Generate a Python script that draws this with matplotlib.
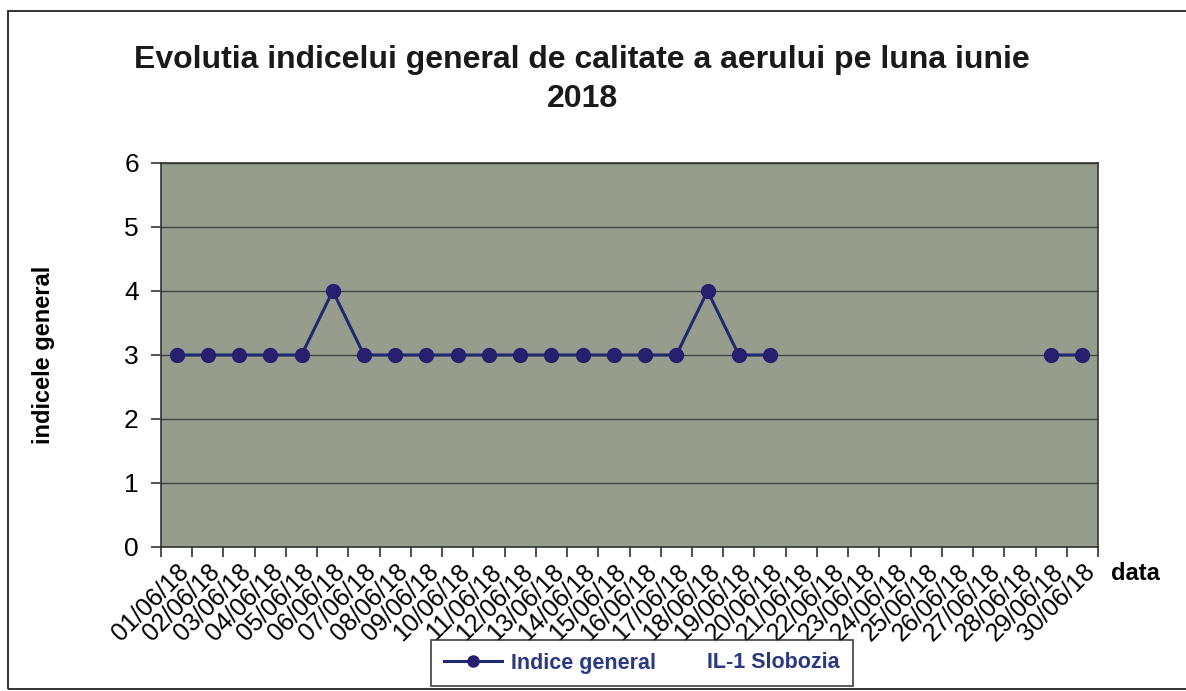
import matplotlib.pyplot as plt
import matplotlib.patches as mpatches
from matplotlib.lines import Line2D
import numpy as np

plt.rcParams['font.family'] = ['Liberation Sans', 'DejaVu Sans']

# zilele lunii iunie 2018
dates = ["%02d/06/18" % d for d in range(1, 31)]
# indicele general, IL-1 Slobozia (None = lipsa date)
values = [3, 3, 3, 3, 3, 4, 3, 3, 3, 3,
          3, 3, 3, 3, 3, 3, 3, 4, 3, 3,
          None, None, None, None, None, None, None, None, 3, 3]
y_ticks = [0, 1, 2, 3, 4, 5, 6]

x = np.arange(len(dates))
y = np.array([np.nan if v is None else v for v in values], dtype=float)

fig = plt.figure(figsize=(11.86, 6.91), dpi=100)
fig.patch.set_facecolor("white")

# chenarul graficului
fig.patches.append(mpatches.Rectangle((8/1186, 2/691), 1.2, 678/691, transform=fig.transFigure,
                                      fill=False, edgecolor="#222222", linewidth=1.3))

ax = fig.add_axes([161/1186, 144/691, 937/1186, 384/691])
ax.set_facecolor("#969d8c")
for s in ax.spines.values():
    s.set_color("#333333")
    s.set_linewidth(1.2)

ax.grid(axis="y", color="#3f443d", linewidth=1.0)
ax.set_axisbelow(True)

ax.plot(x, y, color="#1f2a6e", linewidth=2.2, marker="o", markersize=10,
        markerfacecolor="#27206e", markeredgecolor="#27206e")

ax.set_xlim(-0.5, len(dates) - 0.5)
ax.set_ylim(0, 6)
ax.set_yticks(y_ticks)
ax.set_yticklabels([str(t) for t in y_ticks], fontsize=19)

# liniute intre categorii, etichete la mijloc
ax.set_xticks(np.arange(-0.5, len(dates), 1.0))
ax.set_xticklabels([])
ax.tick_params(axis="x", which="major", length=7, width=1.2, color="#333333")
ax.set_xticks(x, minor=True)
ax.set_xticklabels(dates, minor=True, rotation=45, ha="right", va="top",
                   rotation_mode="anchor", fontsize=18)
ax.tick_params(axis="x", which="minor", length=0, pad=9)
ax.tick_params(axis="y", length=7, width=1.2, color="#333333", pad=9)

ax.set_ylabel("indicele general", fontsize=17, fontweight="bold", labelpad=50)
fig.text(1135/1186, 1 - 573/691, "data", fontsize=17, fontweight="bold",
         ha="center", va="center")

fig.text(582/1186, 1 - 60/691, "Evolutia indicelui general de calitate a aerului pe luna iunie",
         fontsize=23, fontweight="bold", ha="center", va="center", color="#1a1a1a")
fig.text(582/1186, 1 - 99/691, "2018", fontsize=23, fontweight="bold",
         ha="center", va="center", color="#1a1a1a")

h1 = Line2D([], [], color="#1f2a6e", linewidth=2.2, marker="o", markersize=8,
            markerfacecolor="#27206e", markeredgecolor="#27206e")
h2 = Line2D([], [], color="none")
leg = fig.legend([h1, h2], ["Indice general", "IL-1 Slobozia"], ncol=2,
                 loc="center", bbox_to_anchor=(642/1186, 1 - 663/691),
                 fontsize=15.5, frameon=True, fancybox=False, handlelength=2.7,
                 columnspacing=-0.7, handletextpad=0.4, borderpad=0.6)
leg.get_frame().set_edgecolor("#222222")
leg.get_frame().set_linewidth(1.3)
for t in leg.get_texts():
    t.set_color("#2b3a80")
    t.set_fontweight("bold")

plt.savefig("out.png", dpi=100)
